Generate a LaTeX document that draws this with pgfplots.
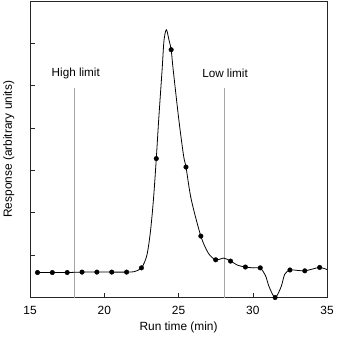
\documentclass[border=0pt]{standalone}
\usepackage{fontspec}
\setmainfont{Liberation Sans}
\usepackage{pgfplots}
\pgfplotsset{compat=1.18}
\usetikzlibrary{calc}
\definecolor{limitc}{RGB}{165,165,165}

\begin{document}
\begin{tikzpicture}
\begin{axis}[
  scale only axis, width=298.5bp, height=298bp,
  xmin=15, xmax=35, ymin=0, ymax=7,
  xtick={15,20,25,30,35}, ytick={1,2,3,4,5,6}, yticklabels={},
  xtick pos=left, ytick pos=left, tick align=inside,
  major tick length=5bp,
  axis line style={line width=0.8pt, black!85},
  every tick/.style={line width=0.6pt, black!85},
  /pgf/number format/assume math mode=true,
  tick label style={font=\fontsize{12}{14}\selectfont},
  xticklabel style={yshift=-5bp},
  xlabel={Run time (min)}, ylabel={Response (arbitrary units)},
  every axis x label/.style={at={(axis description cs:0.5,-0.102)}, anchor=center,
    font=\fontsize{12}{14}\selectfont},
  every axis y label/.style={at={(axis description cs:-0.0714,0.5)}, rotate=90, anchor=center,
    font=\fontsize{12}{14}\selectfont},
  clip marker paths=false,
]
% limit lines
\addplot[limitc, line width=0.7pt] coordinates {(18.0,0) (18.0,4.95)};
\addplot[limitc, line width=0.7pt] coordinates {(28.08,0) (28.08,4.95)};
% trace
\addplot[black, line width=0.8pt, smooth, tension=0.5] coordinates {
  (15.5,0.59) (16.5,0.59) (17.5,0.59) (18.5,0.60) (19.5,0.60) (20.5,0.60)
  (21.5,0.60) (22.0,0.61) (22.5,0.70) (22.86,0.99) (23.1,1.54) (23.31,2.32)
  (23.5,3.28) (23.66,4.19) (23.89,5.37) (24.02,6.07) (24.18,6.32) (24.36,6.07)
  (24.5,5.85) (24.64,5.37) (25.02,4.19) (25.34,3.34) (25.5,3.08) (25.85,2.32)
  (26.5,1.45) (27.0,1.05) (27.5,0.89) (28.05,0.93) (28.5,0.86) (29.0,0.76)
  (29.5,0.72) (30.0,0.70) (30.5,0.69) (30.85,0.52) (31.1,0.25) (31.5,0.0)
  (31.9,0.25) (32.15,0.55) (32.5,0.65) (33.0,0.64) (33.5,0.63) (34.0,0.67)
  (34.5,0.71) (35.0,0.66)
};
% sampled points
\addplot[only marks, mark=*, mark size=2.3bp, black] coordinates {
  (15.5,0.59) (16.5,0.59) (17.5,0.59) (18.5,0.60) (19.5,0.60) (20.5,0.60)
  (21.5,0.60) (22.5,0.70) (23.5,3.28) (24.5,5.85) (25.5,3.08) (26.5,1.45)
  (27.5,0.89) (28.5,0.86) (29.5,0.72) (30.5,0.70) (31.5,0.0) (32.5,0.65)
  (33.5,0.63) (34.5,0.71)
};
\node[font=\fontsize{11.8}{13}\selectfont] at (axis cs:18.08,5.30) {High limit};
\node[font=\fontsize{11.8}{13}\selectfont] at (axis cs:28.13,5.30) {Low limit};
\end{axis}
\path ($(current axis.south west)+(-28bp,-38bp)$) rectangle ($(current axis.north east)+(6.5bp,1bp)$);
\end{tikzpicture}
\end{document}
